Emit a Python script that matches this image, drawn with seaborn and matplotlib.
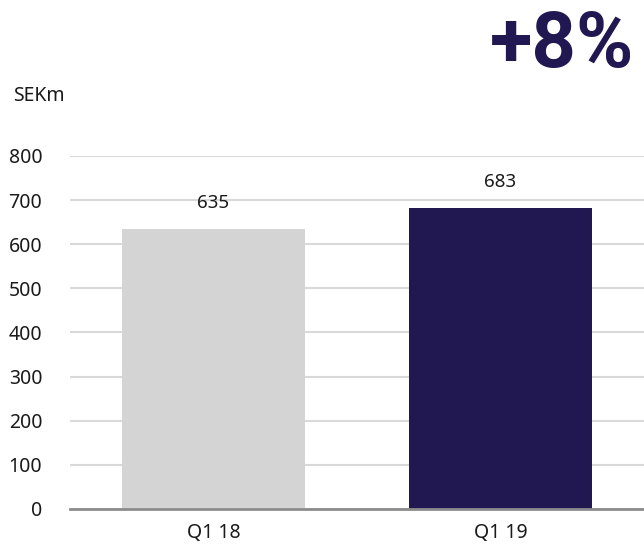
import matplotlib
matplotlib.use("Agg")
import matplotlib.pyplot as plt
import seaborn as sns
import pandas as pd

# Chart data
quarters = ["Q1 18", "Q1 19"]
sales = [635, 683]
bar_colors = ["#d4d4d4", "#211751"]
growth_label = "+8%"
unit_label = "SEKm"

sns.set_theme(style="white")
plt.rcParams["font.family"] = ["Noto Sans", "DejaVu Sans"]

df = pd.DataFrame({"quarter": quarters, "sales": sales})

fig = plt.figure(figsize=(6.44, 5.46), dpi=100)
ax = fig.add_axes([0.1087, 0.0678, 0.8913, 0.6465])

sns.barplot(data=df, x="quarter", y="sales", hue="quarter", palette=bar_colors,
            width=0.635, legend=False, ax=ax, zorder=3, saturation=1, linewidth=0)

ax.set_ylim(0, 800)
ax.set_xlim(-0.5, 1.5)
ax.set_yticks(range(0, 801, 100))
ax.yaxis.grid(True, color="#d9d9d9", linewidth=1.5, zorder=0)
ax.xaxis.grid(False)
for side in ["top", "right", "left"]:
    ax.spines[side].set_visible(False)
ax.spines["bottom"].set_color("#8c8c8c")
ax.spines["bottom"].set_linewidth(2)
ax.spines["bottom"].set_zorder(4)

ax.set_xlabel("")
ax.set_ylabel("")
ax.tick_params(axis="both", length=0, labelsize=14, colors="#1a1a1a")
ax.tick_params(axis="y", pad=20)
ax.tick_params(axis="x", pad=10)

for bar, val in zip(ax.patches, sales):
    ax.annotate(str(val), (bar.get_x() + bar.get_width() / 2, val),
                xytext=(0, 12), textcoords="offset points",
                ha="center", va="bottom", fontsize=13.5, color="#1a1a1a")

fig.text(0.02, 0.825, unit_label, fontsize=14, color="#1a1a1a", ha="left", va="center")
fig.text(0.985, 0.915, growth_label, fontsize=56, fontweight="bold", color="#211751",
         ha="right", va="center", family=["Roboto", "DejaVu Sans"])

fig.savefig("out.png", dpi=100)
